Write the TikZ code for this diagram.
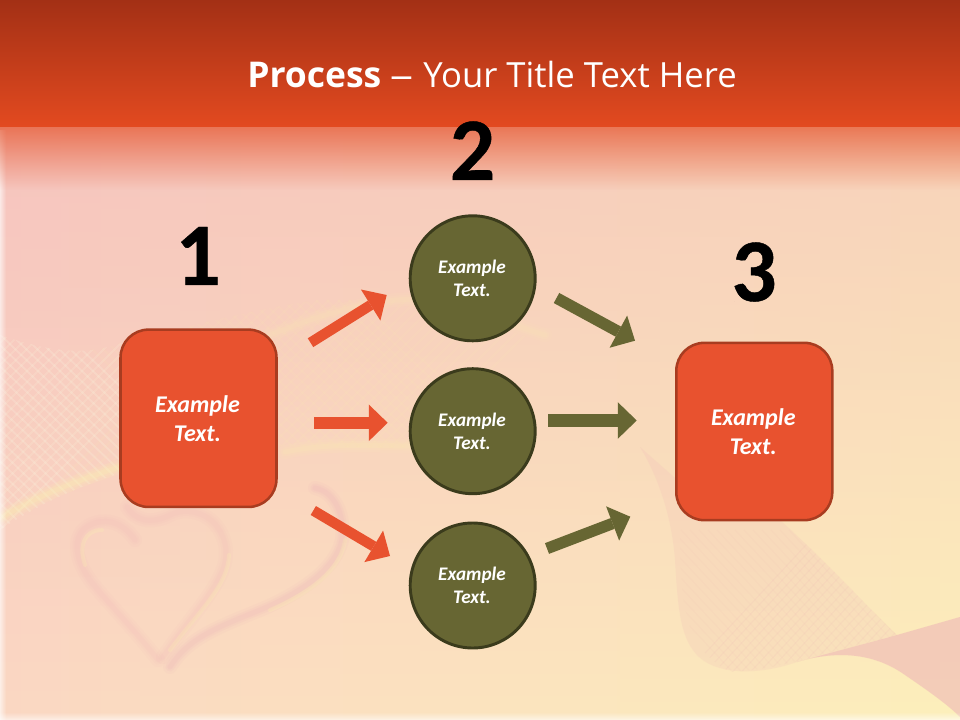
\documentclass[tikz,border=0pt]{standalone}
\usepackage{fontspec}
\setmainfont{Carlito}
\newfontfamily\titlefont{Open Sans}
\newfontfamily\numfont[FakeBold=0.5]{Carlito Bold}
\usetikzlibrary{arrows.meta,fadings}
\definecolor{boxred}{HTML}{E8522F}
\definecolor{boxedge}{HTML}{A83C20}
\definecolor{olive}{HTML}{676633}
\definecolor{oliveedge}{HTML}{3B3B1C}
\definecolor{headtop}{HTML}{A33015}
\definecolor{headbot}{HTML}{E34A20}
\definecolor{pinkline}{HTML}{EBA5B5}
\definecolor{paleyel}{HTML}{FCF3B0}
\definecolor{bgl}{HTML}{FBD8C3}
\definecolor{bgm}{HTML}{FBDAC2}
\definecolor{bgr}{HTML}{FDF0BC}
\definecolor{bgpink}{HTML}{F0A8B8}
\tikzfading[name=pinkfade, top color=transparent!50, bottom color=transparent!100]
\tikzfading[name=hdrfade, top color=transparent!35, middle color=transparent!75, bottom color=transparent!100]
\tikzfading[name=edgeleft, left color=transparent!40, right color=transparent!100]
\tikzfading[name=edgebot, bottom color=transparent!40, top color=transparent!100]
\tikzset{
 boxnode/.style={draw=boxedge,fill=boxred,line width=1.9pt,rounded corners=21pt,minimum width=117pt,minimum height=133pt,text=white,align=center,font=\fontsize{18}{21.6}\selectfont\bfseries\itshape,inner sep=0pt},
 circnode/.style={circle,draw=oliveedge,fill=olive,line width=2.2pt,minimum size=93.75pt,text=white,align=center,font=\fontsize{14.4}{17.2}\selectfont\bfseries\itshape,inner sep=0pt},
 numnode/.style={font=\numfont\fontsize{67}{67}\selectfont,text=black,anchor=base,inner sep=0pt},
 redarrow/.style={draw=boxred,line width=#1,-{Triangle[length=14.2pt,width=27.5pt,line width=0pt]}},
 olivearrow/.style={draw=olive,line width=#1,-{Triangle[length=14.2pt,width=27.5pt,line width=0pt]}},
 softpink/.style={draw=pinkline,line cap=round,line join=round},
 softyel/.style={draw=paleyel,line cap=round,line join=round},
}
\begin{document}
\begin{tikzpicture}[x=0.75pt,y=-0.75pt]
\useasboundingbox (0,0) rectangle (960,720);
% background
\fill[left color=bgl,middle color=bgm,right color=bgr] (0,0) rectangle (960,720);
\fill[bgpink,path fading=pinkfade] (0,0) rectangle (960,720);
% left mesh wave
\begin{scope}
\clip (0,335) .. controls (60,355) and (90,355) .. (130,340) .. controls (220,320) and (320,290) .. (400,297) .. controls (450,305) and (500,330) .. (540,340) -- (520,440) .. controls (400,455) and (300,440) .. (220,450) .. controls (130,465) and (60,490) .. (0,530) -- cycle;
\foreach \k in {0,...,60}{
  \draw[paleyel,opacity=0.08,line width=1.4pt] (-300+\k*11,300) -- (-50+\k*11,540);
  \draw[paleyel,opacity=0.08,line width=1.4pt] (-100+\k*11,300) -- (-340+\k*11,540);
}
\begin{scope}
\clip (0,300) rectangle (125,540);
\foreach \k in {0,...,30}{
  \draw[white,opacity=0.14,line width=1.4pt] (-300+\k*11,300) -- (-50+\k*11,540);
  \draw[white,opacity=0.10,line width=1.4pt] (-100+\k*11,300) -- (-340+\k*11,540);
}
\end{scope}
\end{scope}
\foreach \w/\o in {14/0.12,9/0.16,5/0.2}{
  \draw[softyel,line width=\w*0.75pt,opacity=\o] (0,518) .. controls (50,490) and (80,480) .. (125,465);
  \draw[softyel,line width=\w*0.75pt,opacity=\o*0.6] (285,452) .. controls (340,440) and (400,448) .. (480,447);
  \draw[softyel,line width=\w*0.75pt,opacity=\o*0.5] (270,335) .. controls (320,315) and (380,295) .. (430,300) .. controls (470,305) and (510,325) .. (545,335);
}
% hearts
\foreach \w/\o in {14/0.05,9/0.06,5/0.07}{
  \draw[softpink,line width=\w*0.75pt,opacity=\o] (158,660) .. controls (135,630) and (105,600) .. (90,580) .. controls (72,555) and (72,530) .. (95,523) .. controls (110,518) and (125,525) .. (135,540);
  \draw[softpink,line width=\w*0.75pt,opacity=\o] (127,507) .. controls (135,520) and (150,525) .. (170,515) .. controls (190,505) and (222,515) .. (226,550) .. controls (228,580) and (195,610) .. (163,657);
  \draw[softpink,line width=\w*0.75pt,opacity=1.5*\o] (170,667) .. controls (190,635) and (225,625) .. (267,607) .. controls (300,592) and (335,570) .. (342,540) .. controls (345,515) and (335,492) .. (315,488);
}
\foreach \w/\o in {4/0.22}{
  \draw[softyel,line width=\w*0.75pt,opacity=\o] (85,565) .. controls (78,545) and (85,530) .. (102,530);
  \draw[softyel,line width=\w*0.75pt,opacity=\o] (229,555) .. controls (228,585) and (200,610) .. (170,650);
  \draw[softyel,line width=\w*0.75pt,opacity=\o] (345,540) .. controls (340,575) and (300,597) .. (270,610);
}
% right ribbon
\path[fill=pinkline,opacity=0.13] (640,447) .. controls (660,480) and (672,520) .. (675,560) .. controls (678,610) and (680,640) .. (700,658) .. controls (720,675) and (760,675) .. (797,662) .. controls (830,652) and (870,650) .. (905,675) .. controls (930,692) and (948,705) .. (960,717) -- (960,617) -- (897,635) .. controls (870,610) and (830,565) .. (780,520) -- (700,500) -- cycle;
\path[fill=pinkline,opacity=0.36] (797,662) .. controls (830,652) and (870,650) .. (905,675) .. controls (930,692) and (948,705) .. (960,717) -- (960,617) -- (897,635) .. controls (880,640) and (840,650) .. cycle;
\begin{scope}
\clip (680,530) .. controls (680,620) and (690,650) .. (730,672) .. controls (780,670) and (830,650) .. (880,640) -- (897,635) .. controls (870,610) and (830,565) .. (780,520) -- cycle;
\foreach \k in {0,...,22}{
  \draw[pinkline,opacity=0.10,line width=0.7pt] (680+\k*9,680) -- (820+\k*9,530);
  \draw[pinkline,opacity=0.06,line width=0.7pt] (600+\k*9,530) -- (740+\k*9,680);
}
\end{scope}
% edges
\fill[white,path fading=edgeleft] (0,130) rectangle (6,720);
\fill[white,path fading=edgebot] (0,712) rectangle (960,720);
% header
\fill[top color=headtop,bottom color=headbot] (0,0) rectangle (960,127);
\fill[headbot,path fading=hdrfade] (0,127) rectangle (960,190);
% title
\node[text=white,inner sep=0pt,anchor=base west] (title) at (247,88) {\titlefont\fontsize{26.6}{32}\selectfont\textbf{Process}\fontsize{26}{32}\selectfont\hspace{6.4pt}\scalebox{1.35}[1]{–}\hspace{7.6pt}Your Title Text Here};
% numbers
\node[numnode] (n1) at (198,285) {1};
\node[numnode] (n2) at (472.5,180) {2};
\node[numnode] (n3) at (754,301) {3};
% nodes
\node[boxnode] (b1) at (198.5,418.3) {Example\hspace*{1.5pt}\\Text.\hspace*{1.5pt}};
\node[boxnode] (b3) at (754.3,431.5) {Example\hspace*{1.5pt}\\Text.\hspace*{1.5pt}};
\node[circnode] (c1) at (472.7,278.3) {Example\hspace*{1pt}\\Text.\hspace*{1pt}};
\node[circnode] (c2) at (472.7,431.2) {Example\hspace*{1pt}\\Text.\hspace*{1pt}};
\node[circnode] (c3) at (472.7,585.5) {Example\hspace*{1pt}\\Text.\hspace*{1pt}};
% connector ends
\coordinate (a1s) at (310.5,342.7); \coordinate (a1e) at (386.7,295);
\coordinate (a2s) at (314,422.8);   \coordinate (a2e) at (387.7,422.8);
\coordinate (a3s) at (313.3,510.5); \coordinate (a3e) at (390,556);
\coordinate (g1s) at (556.5,298);   \coordinate (g1e) at (635,340.7);
\coordinate (g2s) at (548,420.5);   \coordinate (g2e) at (636.7,420.5);
\coordinate (g3s) at (547,548.5);   \coordinate (g3e) at (630.3,516.7);
\draw[redarrow=7.8pt] (a1s) -- (a1e);
\draw[redarrow=9pt] (a2s) -- (a2e);
\draw[redarrow=7.8pt] (a3s) -- (a3e);
\draw[olivearrow=8.6pt] (g1s) -- (g1e);
\draw[olivearrow=9.4pt] (g2s) -- (g2e);
\draw[olivearrow=8.6pt] (g3s) -- (g3e);
\end{tikzpicture}
\end{document}
